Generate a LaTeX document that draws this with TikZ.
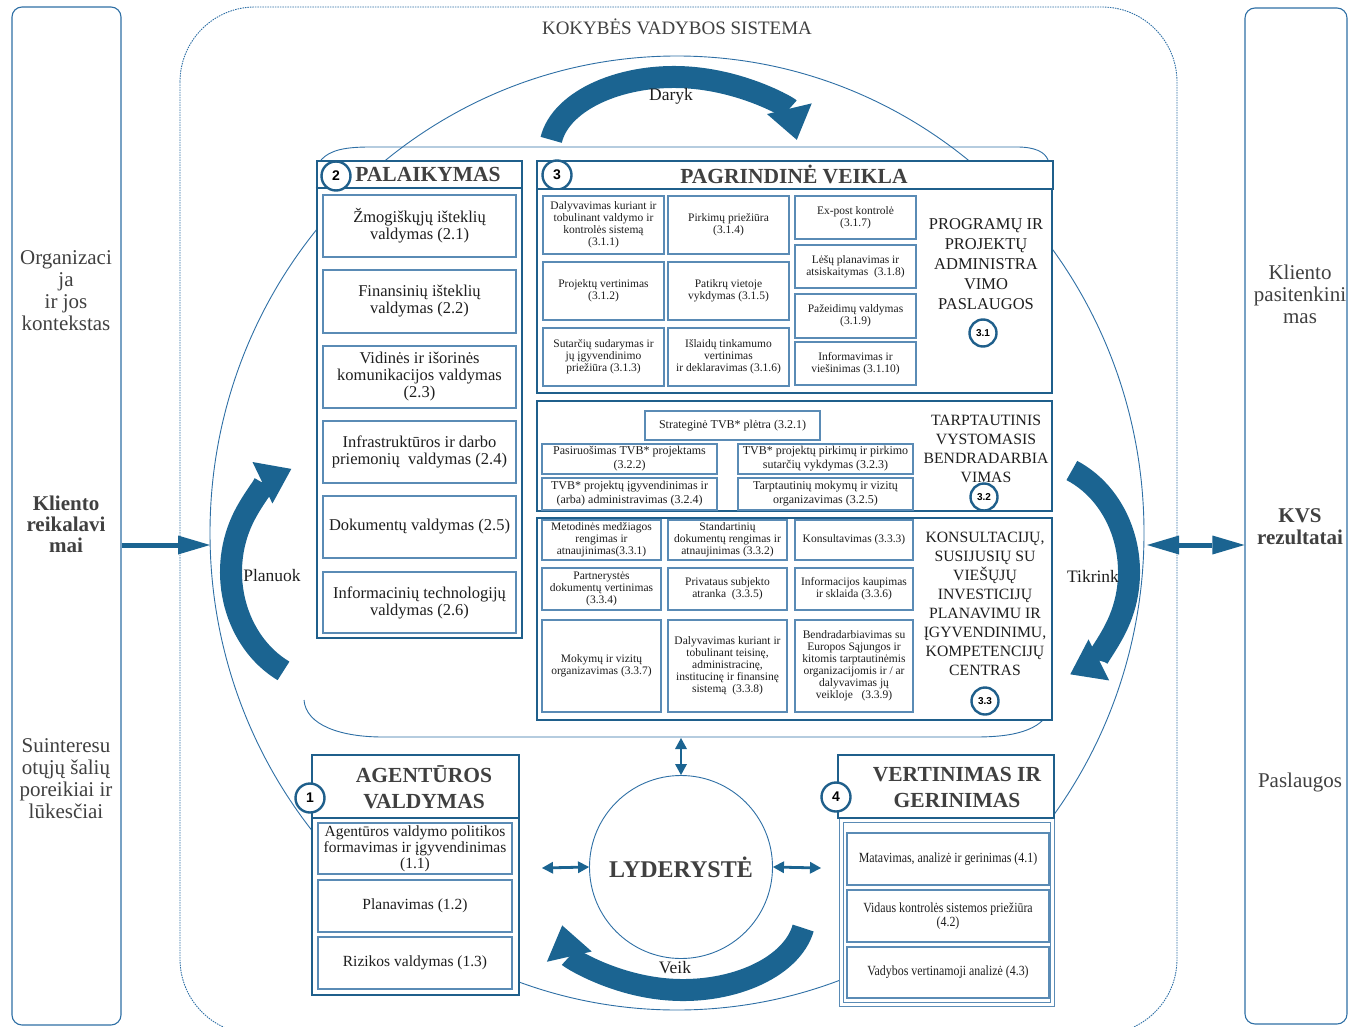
\documentclass[tikz,border=0pt]{standalone}
\usepackage{fontspec}
\setmainfont{Liberation Serif}
\newfontfamily\numfont{Liberation Sans}
\newfontfamily\condfont[FakeStretch=0.85]{Liberation Serif}
\usetikzlibrary{shapes.geometric,arrows.meta}
\definecolor{frameblue}{HTML}{1F5F8B}
\definecolor{boxblue}{HTML}{5A8BB5}
\definecolor{thinblue}{HTML}{2E6FA5}
\definecolor{arrowblue}{HTML}{1B6491}
\definecolor{bodytext}{HTML}{1E1E1E}
\definecolor{headtext}{HTML}{404040}
\newcommand\myfs[2]{\fontsize{#1}{#2}\selectfont}
% box by corners: style, name, x1, y1, x2, y2, text
\newcommand\bx[7]{\node[#1,minimum width={(#5-#3)*1pt},minimum height={(#6-#4)*1pt}] (#2) at ({(#3+#5)/2},{(#4+#6)/2}) {#7};}
\begin{document}
\begin{tikzpicture}[x=1pt,y=-1pt,
  panel/.style={draw=thinblue,line width=1.1pt,rounded corners=10pt,inner sep=0pt},
  ptext/.style={align=center,text=headtext,font=\myfs{21}{22}},
  frame/.style={draw=frameblue,line width=2.6pt,fill=white,inner sep=0pt},
  ibox/.style={draw=boxblue,line width=1.2pt,fill=white,inner sep=0pt,align=center,text=bodytext,font=\myfs{11.5}{12}},
  ibox2/.style={ibox,font=\myfs{16.5}{17}},
  ibox1/.style={ibox,font=\myfs{15.5}{16}},
  ibox4/.style={ibox,font=\condfont\myfs{14}{14}},
  ibox32/.style={ibox,font=\myfs{12}{14}},
  headt/.style={align=center,text=headtext,font=\bfseries\myfs{21.5}{26}},
  sidet/.style={align=center,text=bodytext,font=\myfs{16.5}{20}},
  numc/.style={circle,draw=frameblue,line width=2.4pt,fill=white,minimum size=29pt,inner sep=0pt,text=black,font=\numfont\bfseries\myfs{14}{14}},
  numcs/.style={numc,minimum size=27pt,font=\numfont\bfseries\myfs{10}{10}},
  thinl/.style={draw=thinblue,line width=0.9pt},
  fat/.style={draw=arrowblue,line width=22pt,-{Triangle[width=46pt,length=32pt,line width=0pt]}},
  cyclab/.style={text=bodytext,font=\myfs{17.5}{18}},
  sidearrow/.style={draw=arrowblue,line width=5pt,-{Triangle[width=19pt,length=32pt,line width=0pt]}},
  sidedbl/.style={draw=arrowblue,line width=5pt,{Triangle[width=19pt,length=32pt,line width=0pt]}-{Triangle[width=19pt,length=32pt,line width=0pt]}},
  smalldbl/.style={draw=arrowblue,line width=2.8pt,{Triangle[width=12pt,length=11pt,line width=0pt]}-{Triangle[width=12pt,length=11pt,line width=0pt]}}
]
\useasboundingbox (0,0) rectangle (1348,1027);

% ---- side panels
\bx{panel}{lp}{12}{7}{121}{1025}{}
\node[ptext] (lt1) at (66,291) {Organizaci\\ja\\ir jos\\kontekstas};
\node[ptext,font=\bfseries\myfs{21}{21}] (lt2) at (66,524) {Kliento\\reikalavi\\mai};
\node[ptext] (lt3) at (66,779) {Suinteresu\\otųjų šalių\\poreikiai ir\\lūkesčiai};

\bx{panel}{rp}{1245}{8}{1347}{1024}{}
\node[ptext] (rt1) at (1300,294) {Kliento\\pasitenkini\\mas};
\node[ptext,font=\bfseries\myfs{21}{22}] (rt2) at (1300,527) {KVS\\rezultatai};
\node[ptext] (rt3) at (1300,782) {Paslaugos};

% ---- outer system frame
\draw[thinl,dash pattern=on 1.5pt off 1pt,rounded corners=75pt] (180,7) rectangle (1177,1034);
\node[text=headtext,font=\myfs{19}{19}] (kvs) at (677,27) {KOKYBĖS VADYBOS SISTEMA};

% ---- big cycle ellipse
\node[thinl,ellipse,minimum width=934pt,minimum height=954pt,inner sep=0pt] (cyc) at (677,533) {};

% ---- tray
\draw[thinl] (321,160) .. controls (330,150) and (345,147) .. (370,147) -- (1017,147) .. controls (1035,147) and (1045,152) .. (1048,160);
\draw[thinl] (304,700) .. controls (306,725) and (340,737) .. (383,737) -- (976,737) .. controls (1020,737) and (1045,728) .. (1052,705);

% ---- box 2 PALAIKYMAS
\bx{frame}{b2}{317}{161}{522}{638}{}
\draw[draw=frameblue,line width=2.6pt] (b2.west |- 0,188) -- (b2.east |- 0,188);
\node[headt] (b2t) at (428,174) {PALAIKYMAS};
\bx{ibox2}{b21}{323}{195}{516}{257}{Žmogiškųjų išteklių\\valdymas (2.1)}
\bx{ibox2}{b22}{323}{270}{516}{333}{Finansinių išteklių\\valdymas (2.2)}
\bx{ibox2}{b23}{323}{346}{516}{408}{Vidinės ir išorinės\\komunikacijos valdymas\\(2.3)}
\bx{ibox2}{b24}{323}{421}{516}{483}{Infrastruktūros ir darbo\\priemonių\ \ valdymas (2.4)}
\bx{ibox2}{b25}{323}{496}{516}{558}{Dokumentų valdymas (2.5)}
\bx{ibox2}{b26}{323}{572}{516}{633}{Informacinių technologijų\\valdymas (2.6)}
\node[numc] (n2) at (336,176) {2};

% ---- box 3 PAGRINDINE VEIKLA
\bx{frame}{b3h}{537}{161}{1053}{189}{}
\node[headt] (b3t) at (794,174) {PAGRINDINĖ VEIKLA};
\node[numc] (n3) at (557,175) {3};

% 3.1
\bx{frame}{b31}{537}{189}{1052}{393}{}
\bx{ibox}{c311}{543}{196}{664}{254}{Dalyvavimas kuriant ir\\tobulinant valdymo ir\\kontrolės sistemą\\(3.1.1)}
\bx{ibox}{c314}{668}{196}{789}{254}{Pirkimų priežiūra\\(3.1.4)}
\bx{ibox}{c312}{543}{262}{664}{320}{Projektų vertinimas\\(3.1.2)}
\bx{ibox}{c315}{668}{262}{789}{320}{Patikrų vietoje\\vykdymas (3.1.5)}
\bx{ibox}{c313}{543}{328}{664}{386}{Sutarčių sudarymas ir\\jų įgyvendinimo\\priežiūra (3.1.3)}
\bx{ibox}{c316}{668}{328}{789}{386}{Išlaidų tinkamumo\\vertinimas\\ir deklaravimas (3.1.6)}
\bx{ibox}{c317}{795}{196}{916}{239}{Ex-post kontrolė\\(3.1.7)}
\bx{ibox}{c318}{795}{245}{916}{288}{Lėšų planavimas ir\\atsiskaitymas\ \ (3.1.8)}
\bx{ibox}{c319}{795}{294}{916}{338}{Pažeidimų valdymas\\(3.1.9)}
\bx{ibox}{c3110}{795}{342}{916}{385}{Informavimas ir\\viešinimas (3.1.10)}
\node[sidet] (s31) at (986,264) {PROGRAMŲ IR\\PROJEKTŲ\\ADMINISTRA\\VIMO\\PASLAUGOS};
\node[numcs] (n31) at (983,333) {3.1};

% 3.2
\bx{frame}{b32}{537}{401}{1052}{511}{}
\bx{ibox32}{c321}{645}{411}{820}{440}{Strateginė TVB* plėtra (3.2.1)}
\bx{ibox32}{c322}{542}{444}{717}{474}{Pasiruošimas TVB* projektams\\(3.2.2)}
\bx{ibox32}{c323}{738}{444}{913}{474}{TVB* projektų pirkimų ir pirkimo\\sutarčių vykdymas (3.2.3)}
\bx{ibox32}{c324}{542}{478}{717}{510}{TVB* projektų įgyvendinimas ir\\(arba) administravimas (3.2.4)}
\bx{ibox32}{c325}{738}{478}{913}{510}{Tarptautinių mokymų ir vizitų\\organizavimas (3.2.5)}
\node[sidet,font=\myfs{15.7}{19}] (s32) at (986,449) {TARPTAUTINIS\\VYSTOMASIS\\BENDRADARBIA\\VIMAS};
\node[numcs] (n32) at (984,497) {3.2};

% 3.3
\bx{frame}{b33}{537}{518}{1052}{720}{}
\bx{ibox}{c331}{542}{520}{661}{560}{Metodinės medžiagos\\rengimas ir\\atnaujinimas(3.3.1)}
\bx{ibox}{c332}{668}{520}{787}{560}{Standartinių\\dokumentų rengimas ir\\atnaujinimas (3.3.2)}
\bx{ibox}{c333}{795}{520}{913}{560}{Konsultavimas (3.3.3)}
\bx{ibox}{c334}{542}{568}{661}{610}{Partnerystės\\dokumentų vertinimas\\(3.3.4)}
\bx{ibox}{c335}{668}{568}{787}{610}{Privataus subjekto\\atranka\ \ (3.3.5)}
\bx{ibox}{c336}{795}{568}{913}{610}{Informacijos kaupimas\\ir sklaida (3.3.6)}
\bx{ibox}{c337}{542}{620}{661}{712}{Mokymų ir vizitų\\organizavimas (3.3.7)}
\bx{ibox}{c338}{668}{620}{787}{712}{Dalyvavimas kuriant ir\\tobulinant teisinę,\\administracinę,\\institucinę ir finansinę\\sistemą\ \ (3.3.8)}
\bx{ibox}{c339}{795}{620}{913}{712}{Bendradarbiavimas su\\Europos Sąjungos ir\\kitomis tarptautinėmis\\organizacijomis ir / ar\\dalyvavimas jų\\veikloje\ \ \ (3.3.9)}
\node[sidet,font=\myfs{15.7}{19}] (s33) at (985,604) {KONSULTACIJŲ,\\SUSIJUSIŲ SU\\VIEŠŲJŲ\\INVESTICIJŲ\\PLANAVIMU IR\\ĮGYVENDINIMU,\\KOMPETENCIJŲ\\CENTRAS};
\node[numcs] (n33) at (985,701) {3.3};

% ---- box 1 AGENTUROS VALDYMAS
\bx{frame}{b1h}{312}{755}{519}{818}{}
\bx{frame}{b1}{312}{818}{519}{995}{}
\node[headt] (b1t) at (424,787) {AGENTŪROS\\VALDYMAS};
\bx{ibox1}{c11}{318}{823}{512}{874}{Agentūros valdymo politikos\\formavimas ir įgyvendinimas\\(1.1)}
\bx{ibox1}{c12}{318}{880}{512}{932}{Planavimas (1.2)}
\bx{ibox1}{c13}{318}{937}{512}{989}{Rizikos valdymas (1.3)}
\node[numc] (n1) at (310,798) {1};

% ---- box 4 VERTINIMAS IR GERINIMAS
\bx{draw=boxblue,line width=1pt,fill=white,inner sep=0pt}{b4}{839}{818}{1054}{1006}{}
\bx{draw=boxblue,line width=1pt,inner sep=0pt}{b4i}{843}{822}{1050}{1002}{}
\bx{frame}{b4h}{838}{755}{1054}{818}{}
\node[headt] (b4t) at (957,787) {VERTINIMAS IR\\GERINIMAS};
\bx{ibox4}{c41}{847}{833}{1049}{885}{Matavimas, analizė ir gerinimas (4.1)}
\bx{ibox4}{c42}{847}{890}{1049}{942}{Vidaus kontrolės sistemos priežiūra\\(4.2)}
\bx{ibox4}{c43}{847}{947}{1049}{998}{Vadybos vertinamoji analizė (4.3)}
\node[numc] (n4) at (836,797) {4};

% ---- LYDERYSTE
\node[circle,thinl,fill=white,minimum size=183pt,inner sep=0pt,text=headtext,font=\bfseries\myfs{24}{24}] (lyd) at (681,867) {LYDERYSTĖ};

% ---- cycle arrows
\draw[fat] ([shift={(188:124 and 73)}]674,150) arc[start angle=188,end angle=352,x radius=124,y radius=73];
\node[cyclab] (ldaryk) at (671,96) {Daryk};
\draw[fat] ([shift={(118:99 and 112)}]330,572) arc[start angle=118,end angle=247,x radius=99,y radius=112];
\node[cyclab] (lplan) at (272,576) {Planuok};
\draw[fat] ([shift={(-65:99 and 112)}]1030,572) arc[start angle=-65,end angle=66,x radius=99,y radius=112];
\node[cyclab] (ltik) at (1093,576) {Tikrink};
\draw[fat] ([shift={(10:122 and 75)}]683,915) arc[start angle=10,end angle=172,x radius=122,y radius=75];
\node[cyclab] (lveik) at (675,968) {Veik};

% ---- side connectors
\coordinate (la) at (210,545);
\coordinate (ra) at (1147,545);
\draw[sidearrow] (lp.east |- la) -- (la);
\draw[sidedbl] (ra) -- (rp.west |- ra);

% ---- leadership connectors
\coordinate (trayb) at (681,738);
\coordinate (la1) at (542,868);
\coordinate (ra1) at (821,868);
\draw[smalldbl] (trayb) -- (lyd.north);
\draw[smalldbl] (la1) -- (lyd.west);
\draw[smalldbl] (lyd.east) -- (ra1);
\end{tikzpicture}
\end{document}
